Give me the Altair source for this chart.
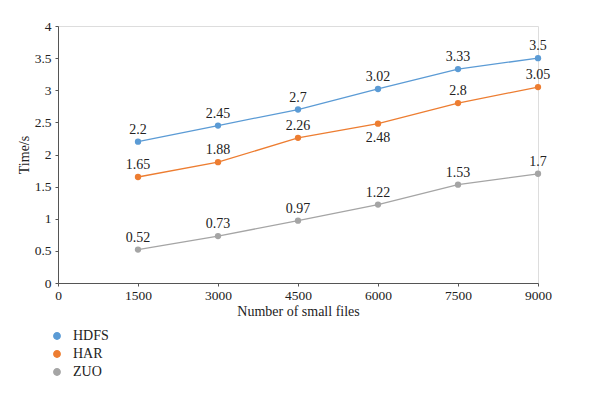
import altair as alt
import pandas as pd

files = [1500, 3000, 4500, 6000, 7500, 9000]
hdfs = [2.2, 2.45, 2.7, 3.02, 3.33, 3.5]
har = [1.65, 1.88, 2.26, 2.48, 2.8, 3.05]
zuo = [0.52, 0.73, 0.97, 1.22, 1.53, 1.7]
series = ["HDFS", "HAR", "ZUO"]
colors = ["#5B9BD5", "#ED7D31", "#A5A5A5"]

rows = []
for name, vals in zip(series, [hdfs, har, zuo]):
    for f, v in zip(files, vals):
        rows.append({"files": f, "time": v, "series": name,
                     "below": name == "HAR" and f == 6000})
df = pd.DataFrame(rows)

FONT = "Liberation Serif"

x = alt.X("files:Q", scale=alt.Scale(domain=[0, 9000]),
          axis=alt.Axis(values=[0, 1500, 3000, 4500, 6000, 7500, 9000], grid=False, format="d",
                        title="Number of small files", titleFontWeight="normal",
                        titleFontSize=14, titleFont=FONT, labelFont=FONT, labelFontSize=13.5,
                        labelColor="#222", titleColor="#222", domainColor="#555",
                        tickColor="#555", tickSize=3, titlePadding=3, labelPadding=2,
                        labelFlush=False))
y = alt.Y("time:Q", scale=alt.Scale(domain=[0, 4]),
          axis=alt.Axis(values=[0, 0.5, 1, 1.5, 2, 2.5, 3, 3.5, 4], grid=False, format="~g",
                        title="Time/s", titleFontWeight="normal", titleFontSize=14,
                        titleFont=FONT, labelFont=FONT, labelFontSize=13.5,
                        labelColor="#222", titleColor="#222", domainColor="#555",
                        tickColor="#555", tickSize=3, titlePadding=3, labelPadding=4))
color = alt.Color("series:N", scale=alt.Scale(domain=series, range=colors),
                  legend=alt.Legend(title=None, orient="none", legendX=-8, legendY=303,
                                    symbolType="circle", symbolSize=40, labelFont=FONT,
                                    labelFontSize=14, labelColor="#222", rowPadding=4,
                                    labelOffset=9))

base = alt.Chart(df)
lines = base.mark_line(strokeWidth=1.3).encode(x=x, y=y, color=color)
points = base.mark_circle(size=40, opacity=1).encode(x=x, y=y, color=color)
above = base.transform_filter("!datum.below").mark_text(
    dy=-12, font=FONT, fontSize=14, color="#222").encode(x=x, y=y, text=alt.Text("time:Q"))
below = base.transform_filter("datum.below").mark_text(
    dy=14, font=FONT, fontSize=14, color="#222").encode(x=x, y=y, text=alt.Text("time:Q"))

chart = alt.layer(lines, points, above, below).properties(
    width=480, height=257,
    padding={"left": 50, "top": 18, "right": 54, "bottom": 100},
    autosize=alt.AutoSizeParams(type="none"),
).configure_view(stroke=None).configure(background="white")

chart.save("out.html", embed_options={"renderer": "svg", "actions": False})
